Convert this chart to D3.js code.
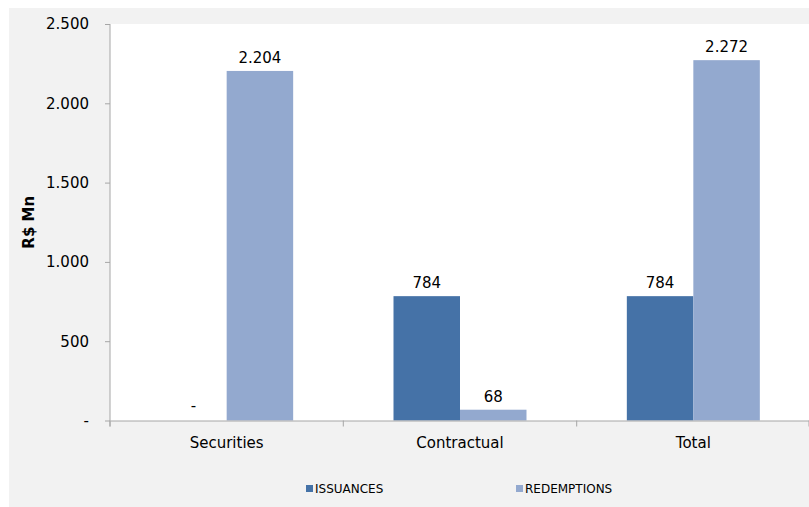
<!DOCTYPE html>
<html>
<head>
<meta charset="utf-8">
<script src="https://cdn.jsdelivr.net/npm/d3@7"></script>
<style>
  body { margin: 0; background: #fff; }
  text { font-family: "DejaVu Sans", sans-serif; fill: #000; }
</style>
</head>
<body>
<div id="chart"></div>
<script>
// dados do gráfico
const categories = ['Securities', 'Contractual', 'Total'];
const seriesNames = ['ISSUANCES', 'REDEMPTIONS'];
const issuances = [0, 784, 784];
const redemptions = [2204, 68, 2272];
const yTicks = [0, 500, 1000, 1500, 2000, 2500];
const colors = ['#4572a7', '#93a9cf'];

const width = 809, height = 507;
const margin = { left: 110, right: 0, top: 24, bottom: 86 };

const svg = d3.select('#chart').append('svg')
  .attr('width', width)
  .attr('height', height);

// fundo cinza e area do grafico
svg.append('rect').attr('x', 9).attr('y', 8)
  .attr('width', width - 9).attr('height', height - 8).attr('fill', '#f2f2f2');
svg.append('rect').attr('x', margin.left).attr('y', margin.top)
  .attr('width', width - margin.left).attr('height', height - margin.top - margin.bottom)
  .attr('fill', '#fff');

const x = d3.scaleBand()
  .domain(categories)
  .range([margin.left, 810])
  .paddingInner(0.43)
  .paddingOuter(0.215);

const x1 = d3.scaleBand().domain(seriesNames).range([0, x.bandwidth()]);

const y = d3.scaleLinear()
  .domain([0, 2500])
  .range([height - margin.bottom - 0.5, margin.top]);

const fmt = v => v === 0 ? '-' : d3.format(',')(v).replace(/,/g, '.');

// eixo y
const yAxis = svg.append('g')
  .attr('transform', `translate(${margin.left},0)`)
  .call(d3.axisLeft(y).tickValues(yTicks).tickSize(5).tickPadding(16).tickFormat(fmt));
yAxis.select('.domain').remove();
yAxis.selectAll('line').attr('stroke', '#a6a6a6');
yAxis.selectAll('text').style('font-size', '15px').attr('font-family', null);
svg.append('line')
  .attr('x1', margin.left).attr('x2', margin.left)
  .attr('y1', margin.top).attr('y2', y(0) + 6)
  .attr('stroke', '#a6a6a6');

// barras
const data = categories.map((c, i) => ({ cat: c, vals: [issuances[i], redemptions[i]] }));
const groups = svg.selectAll('.grp').data(data).enter().append('g')
  .attr('transform', d => `translate(${x(d.cat)},0)`);

groups.selectAll('rect').data(d => d.vals.map((v, j) => ({ s: seriesNames[j], v, j })))
  .enter().append('rect')
  .attr('x', d => x1(d.s))
  .attr('width', x1.bandwidth())
  .attr('y', d => y(d.v))
  .attr('height', d => y(0) - y(d.v))
  .attr('fill', d => colors[d.j]);

groups.selectAll('text').data(d => d.vals.map((v, j) => ({ s: seriesNames[j], v, j })))
  .enter().append('text')
  .attr('x', d => x1(d.s) + x1.bandwidth() / 2)
  .attr('y', d => y(d.v) - (d.v === 0 ? 10 : 8))
  .attr('text-anchor', 'middle')
  .style('font-size', '15px')
  .text(d => fmt(d.v));

// eixo x
const xAxis = svg.append('g')
  .attr('transform', `translate(0,${y(0)})`)
  .call(d3.axisBottom(x).tickSize(0).tickPadding(17));
xAxis.select('.domain').attr('stroke', '#a6a6a6');
xAxis.selectAll('text').style('font-size', '15px').attr('font-family', null);
const bounds = [margin.left, 343.3, 576.7, 809];
svg.selectAll('.xtick').data(bounds).enter().append('line')
  .attr('x1', d => d).attr('x2', d => d)
  .attr('y1', y(0)).attr('y2', y(0) + 6)
  .attr('stroke', '#a6a6a6');

// titulo do eixo y
svg.append('text')
  .attr('transform', `translate(34,${(margin.top + y(0)) / 2}) rotate(-90)`)
  .attr('text-anchor', 'middle')
  .style('font-size', '15px')
  .style('font-weight', 'bold')
  .text('R$ Mn');

// legenda
const legX = [306, 516];
seriesNames.forEach((s, i) => {
  svg.append('rect').attr('x', legX[i]).attr('y', 485)
    .attr('width', 7).attr('height', 7).attr('fill', colors[i]);
  svg.append('text').attr('x', legX[i] + 9).attr('y', 493)
    .style('font-size', '12px').text(s);
});
</script>
</body>
</html>
